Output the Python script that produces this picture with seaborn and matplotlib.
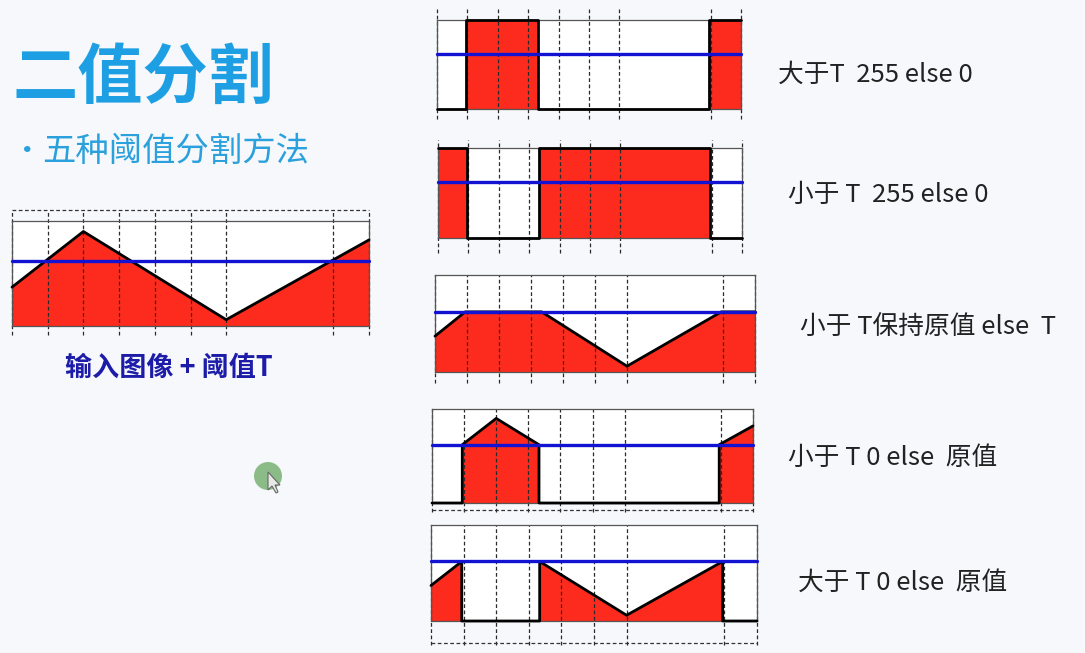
import matplotlib
matplotlib.use("Agg")
import matplotlib.pyplot as plt
import seaborn as sns
from matplotlib.patches import Circle, Polygon

# input image profile: grid position -> normalised grey level
signal_x = [0, 2, 6, 10]
signal_y = [0.37, 0.90, 0.06, 0.82]
threshold = 0.62
grid_x = [0, 1, 2, 3, 4, 5, 6, 9, 10]

title = "二值分割"
subtitle = "五种阈值分割方法"
input_label = "输入图像 + 阈值T"
method_labels = [
    "大于T  255 else 0",
    "小于 T  255 else 0",
    "小于 T保持原值 else  T",
    "小于 T 0 else  原值",
    "大于 T 0 else  原值",
]

# (rule above T, rule below T) for each method, like cv2 THRESH_*
rules = [
    (lambda v: 1.0, lambda v: 0.0),         # binary
    (lambda v: 0.0, lambda v: 1.0),         # binary inv
    (lambda v: threshold, lambda v: v),     # trunc
    (lambda v: v, lambda v: 0.0),           # tozero
    (lambda v: 0.0, lambda v: v),           # tozero inv
]

W, H = 1085, 653
RED = "#fd2b1d"
BLUE = "#1212d2"
BG = "#f6f8fb"

sns.set_style("white")
plt.rcParams["font.family"] = ["Noto Sans CJK SC", "DejaVu Sans"]


def add_crossings(xs, ys, t):
    px, py = [xs[0]], [ys[0]]
    for i in range(len(xs) - 1):
        x0, x1, y0, y1 = xs[i], xs[i + 1], ys[i], ys[i + 1]
        if (y0 - t) * (y1 - t) < 0:
            px.append(x0 + (t - y0) * (x1 - x0) / (y1 - y0))
            py.append(t)
        px.append(x1)
        py.append(y1)
    return px, py


def apply_rule(px, py, t, above, below):
    ox, oy = [], []
    for i in range(len(px) - 1):
        f = above if (py[i] + py[i + 1]) / 2 > t else below
        ox += [px[i], px[i + 1]]
        oy += [f(py[i]), f(py[i + 1])]
    return ox, oy


def panel(box, xs, ys, ext_top=10, ext_bot=10, hline_top=None, hline_bot=None):
    l, t, r, b = box
    h = b - t
    ax = fig.add_axes([l / W, 1 - b / H, (r - l) / W, h / H])
    ax.set_facecolor("white")
    ax.fill_between(xs, ys, 0, color=RED, lw=0, zorder=1)
    for gx in grid_x:
        ax.axvline(gx, ymin=-ext_bot / h, ymax=1 + ext_top / h, color="#2a2a2a",
                   lw=0.9, ls=(0, (3, 2)), clip_on=False, zorder=2)
    for hy in [hline_top, hline_bot]:
        if hy is not None:
            ax.axhline(hy / h, color="#333333", lw=0.9, ls=(0, (3, 2)),
                       clip_on=False, zorder=2)
    sns.lineplot(x=xs, y=ys, ax=ax, color="black", lw=2.0, estimator=None,
                 sort=False, clip_on=False, zorder=3)
    sns.lineplot(x=[0, 10], y=[threshold, threshold], ax=ax, color=BLUE, lw=2.4,
                 estimator=None, sort=False, clip_on=False, zorder=4)
    ax.set_xlim(0, 10)
    ax.set_ylim(0, 1)
    ax.set_xticks([])
    ax.set_yticks([])
    for s in ax.spines.values():
        s.set_color("#555555")
        s.set_linewidth(0.9)
    return ax


fig = plt.figure(figsize=(W / 100, H / 100), dpi=100, facecolor=BG)

bg = fig.add_axes([0, 0, 1, 1])
bg.set_xlim(0, W)
bg.set_ylim(H, 0)
bg.axis("off")

bg.text(12, 78, title, fontsize=47, fontweight="bold", color="#1f9fe3", va="center", ha="left")
bg.text(12, 152, "•", fontsize=22, color="#2aa0dc", va="center", ha="left")
bg.text(42, 151, subtitle, fontsize=24, color="#2aa0dc", va="center", ha="left")
bg.text(65, 368, input_label, fontsize=19.5, fontweight="bold", color="#1c1ca8", va="center", ha="left")

label_pos = [(778, 75), (788, 195), (800, 327), (788, 458), (798, 583)]
for (lx, ly), txt in zip(label_pos, method_labels):
    bg.text(lx, ly, txt, fontsize=18.5, color="#222222", va="center", ha="left")

# mouse pointer highlight
bg.add_patch(Circle((268, 476), 14, color="#79b274", alpha=0.85, lw=0))
bg.add_patch(Polygon([[268, 472], [268, 490], [272, 486], [276, 493], [278, 492],
                      [275, 485], [280, 485]], closed=True, fc="#e8e8e8", ec="#666666", lw=0.8))

px, py = add_crossings(signal_x, signal_y, threshold)

# input image
panel((12, 221, 369, 326), px, py, ext_top=11, ext_bot=9, hline_top=105 + 11)

boxes = [
    (437, 20, 741, 109, 11, 10, None, None),
    (438, 148, 742, 238, 8, 15, None, None),
    (435, 275, 755, 372, 0, 11, None, None),
    (432, 409, 753, 503, 0, 9, None, -7),
    (431, 525, 757, 621, 0, 24, None, -22),
]
for (l, t, r, b, et, eb, ht, hb), (above, below) in zip(boxes, rules):
    ox, oy = apply_rule(px, py, threshold, above, below)
    panel((l, t, r, b), ox, oy, ext_top=et, ext_bot=eb, hline_top=ht, hline_bot=hb)

fig.savefig("out.png", dpi=100, facecolor=BG)
